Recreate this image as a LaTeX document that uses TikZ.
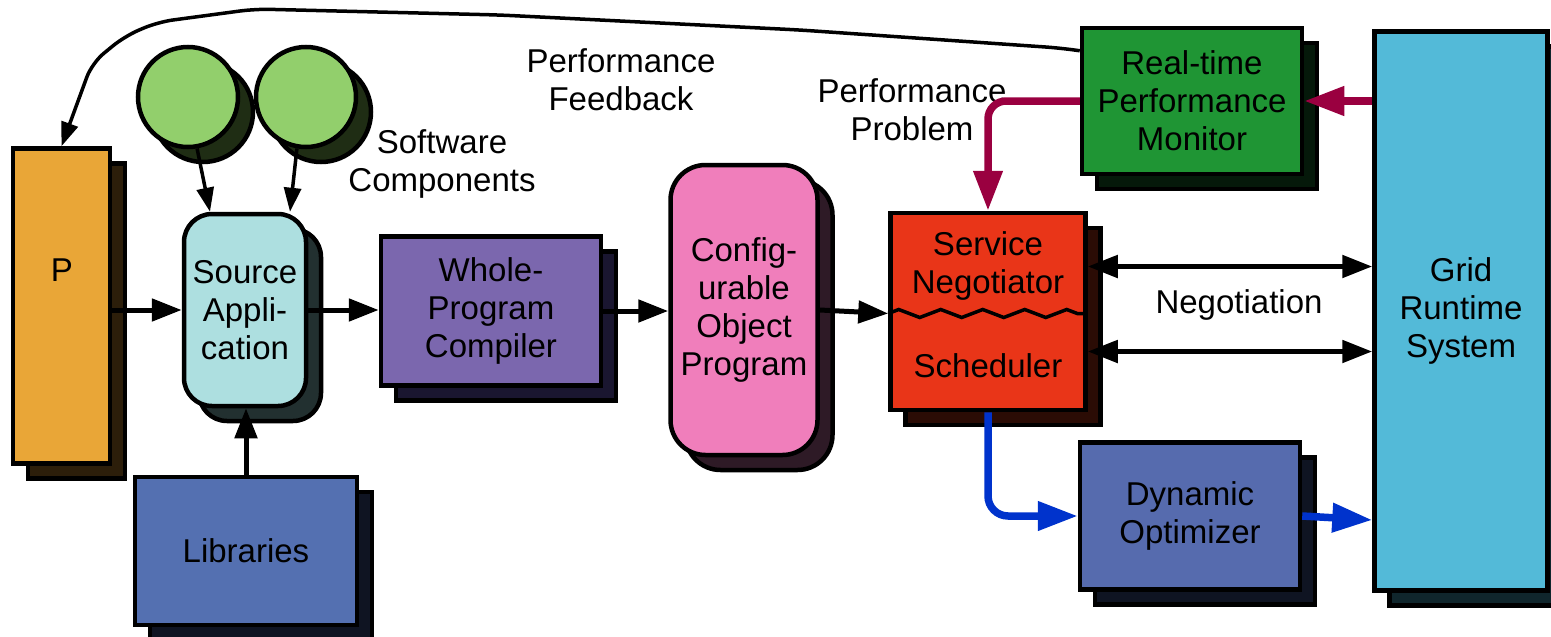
\documentclass[tikz,border=0pt]{standalone}
\usepackage{fontspec}
\setmainfont{Liberation Sans}
\usetikzlibrary{arrows.meta,shadows,decorations.pathmorphing}
\definecolor{porange}{HTML}{E9A637}
\definecolor{porangedk}{HTML}{2C1E0A}
\definecolor{srccyan}{HTML}{ADDFE0}
\definecolor{srccyandk}{HTML}{223030}
\definecolor{compgreen}{HTML}{92CF6C}
\definecolor{compgreendk}{HTML}{1F2D14}
\definecolor{wpcpurple}{HTML}{7B67AE}
\definecolor{wpcpurpledk}{HTML}{1A1630}
\definecolor{cfgpink}{HTML}{F07EBB}
\definecolor{cfgpinkdk}{HTML}{2E1A26}
\definecolor{schedred}{HTML}{E93518}
\definecolor{schedreddk}{HTML}{2B0C05}
\definecolor{mongreen}{HTML}{1F9534}
\definecolor{mongreendk}{HTML}{05190A}
\definecolor{gridcyan}{HTML}{53BAD8}
\definecolor{gridcyandk}{HTML}{10262C}
\definecolor{dynblue}{HTML}{566BAE}
\definecolor{libblue}{HTML}{5470B1}
\definecolor{bluedk}{HTML}{0F1422}
\definecolor{probmaroon}{HTML}{9A0040}
\definecolor{optblue}{HTML}{0033CC}
\begin{document}
\begin{tikzpicture}[x=1pt,y=-1pt,font=\fontsize{33}{38}\selectfont,
  box/.style={draw=black,line width=4.5pt,align=center,inner sep=0pt},
  stack/.style={copy shadow={shadow xshift=15pt,shadow yshift=-15pt,fill=#1,draw=black,line width=4.5pt}},
  arr/.style={-{Triangle[length=30pt,width=22pt]},line width=5pt},
  thinarr/.style={-{Triangle[length=24pt,width=17pt]},line width=3.5pt},
  dblarr/.style={{Triangle[length=30pt,width=22pt]}-{Triangle[length=30pt,width=22pt]},line width=5pt},
  fatarr/.style={-{Triangle[length=40pt,width=28pt]},line width=7.5pt}]
  \useasboundingbox (0,0) rectangle (1551,637);
  % boxes
  \node[box,fill=porange,stack=porangedk,minimum width=97pt,minimum height=315pt] (prog) at (61.5,306) {};
  \node (plabel) at (62,270) {P};
  \node[box,circle,fill=compgreen,stack=compgreendk,minimum size=100pt] (comp1) at (188,97) {};
  \node[box,circle,fill=compgreen,stack=compgreendk,minimum size=100pt] (comp2) at (306,97) {};
  \node[box,rounded corners=28pt,fill=srccyan,stack=srccyandk,minimum width=122pt,minimum height=192pt] (src) at (245,310) {Source\\Appli-\\cation};
  \node[box,fill=libblue,stack=bluedk,minimum width=222pt,minimum height=148pt] (lib) at (246,551) {Libraries};
  \node[box,fill=wpcpurple,stack=wpcpurpledk,minimum width=220pt,minimum height=149pt] (wpc) at (491,311) {Whole-\\Program\\Compiler};
  \node[box,rounded corners=35pt,fill=cfgpink,stack=cfgpinkdk,minimum width=147pt,minimum height=290pt] (cfg) at (744,310) {Config-\\urable\\Object\\Program};
  \node[box,fill=schedred,stack=schedreddk,minimum width=195pt,minimum height=197pt] (sched) at (988,311.5) {};
  \node[align=center] (negtop) at (988,266) {Service\\Negotiator};
  \node (schedtxt) at (988,366) {Scheduler};
  \node[box,fill=mongreen,stack=mongreendk,minimum width=220pt,minimum height=146pt] (mon) at (1192,101) {Real-time\\Performance\\Monitor};
  \node[box,fill=dynblue,stack=bluedk,minimum width=220pt,minimum height=147pt] (dyn) at (1190,516) {Dynamic\\Optimizer};
  \node[box,fill=gridcyan,stack=gridcyandk,minimum width=173pt,minimum height=559pt] (grid) at (1461,311) {Grid\\Runtime\\System};
  \draw[line width=3.5pt,decorate,decoration={zigzag,segment length=42pt,amplitude=4pt}]
    ([yshift=-2pt]sched.west) -- ([yshift=-2pt]sched.east);
  % labels
  \node[align=center] (fbtext) at (621,80) {Performance\\Feedback};
  \node[align=center] (pptext) at (912,110) {Performance\\Problem};
  \node[align=center] (swtext) at (442,164) {Software\\Components};
  \node (negtext) at (1239,305) {Negotiation};
  % connectors
  \draw[arr] (prog.east |- src.west) -- (src.west);
  \draw[arr] (src.east) -- (wpc.west |- src.east);
  \draw[arr] (wpc.east) -- (cfg.west |- wpc.east);
  \draw[arr] (cfg.east) -- ([yshift=-2pt]sched.west);
  \draw[arr] (lib.north) -- (lib.north |- src.south);
  \draw[thinarr] (comp1.-80) -- ([xshift=-35pt]src.north);
  \draw[thinarr] (comp2.-100) -- ([xshift=45pt]src.north);
  \draw[thinarr,rounded corners=15pt] ([yshift=-25pt]mon.north west) -- (1060,48) -- (800,30)
    -- (500,15) -- (255,9) -- (158,22) -- (125,36) -- (92,63) -- (prog.north);
  \draw[fatarr,probmaroon,rounded corners=18pt] (mon.west) -- (mon.west -| sched.north) -- (sched.north);
  \draw[fatarr,probmaroon] (grid.west |- mon.east) -- (mon.east);
  \draw[dblarr] ([yshift=45pt]sched.east) -- ([yshift=45pt]sched.east -| grid.west);
  \draw[dblarr] ([yshift=-40pt]sched.east) -- ([yshift=-40pt]sched.east -| grid.west);
  \draw[fatarr,optblue,rounded corners=20pt] (sched.south) -- (sched.south |- dyn.west) -- (dyn.west);
  \draw[fatarr,optblue] (dyn.east) -- ([yshift=-4pt]grid.west |- dyn.east);
\end{tikzpicture}
\end{document}
